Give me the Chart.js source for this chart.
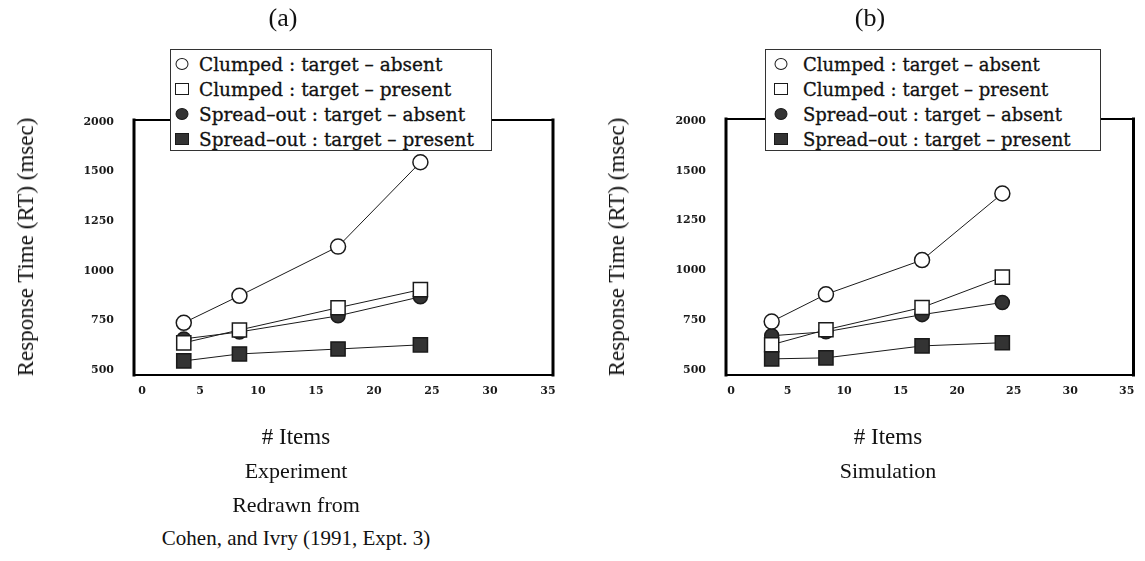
<!DOCTYPE html>
<html>
<head>
<meta charset="utf-8">
<script src="https://cdn.jsdelivr.net/npm/chart.js@4.4.1/dist/chart.umd.min.js"></script>
<style>
  body { margin: 0; background: #fff; width: 1145px; height: 561px; position: relative; overflow: hidden; }
  canvas { position: absolute; top: 0; }
  .txt { position: absolute; white-space: nowrap; transform: translate(-50%, -50%); color: #111;
         font-family: "Liberation Serif", "DejaVu Serif", serif; }
  .ytitle { position: absolute; white-space: nowrap; color: #111; font-family: "Liberation Serif", serif;
            font-size: 23px; transform: translate(-50%, -50%) rotate(-90deg); }
  .legend { position: absolute; background: #fff; border: 1px solid #333; box-sizing: border-box;
            font-family: "DejaVu Serif", serif; color: #111; -webkit-text-stroke: 0.3px #111; }
  .legend .row { position: absolute; left: 0; white-space: nowrap; transform: translateY(-50%); }
  .mk { position: absolute; transform: translate(-50%, -50%); box-sizing: border-box; }
</style>
</head>
<body>
<canvas id="chartA" width="575" height="430" style="left:0px"></canvas>
<canvas id="chartB" width="570" height="430" style="left:575px"></canvas>

<div class="txt" style="left:283px; top:18px; font-size:26px;">(a)</div>
<div class="txt" style="left:870px; top:18px; font-size:26px;">(b)</div>

<div class="ytitle" style="left:26px; top:247px;">Response Time (RT) (msec)</div>
<div class="ytitle" style="left:617px; top:247px;">Response Time (RT) (msec)</div>

<div class="txt" style="left:296px; top:437px; font-size:23px;"># Items</div>
<div class="txt" style="left:888px; top:437px; font-size:23px;"># Items</div>
<div class="txt" style="left:296px; top:471px; font-size:22px;">Experiment</div>
<div class="txt" style="left:296px; top:505px; font-size:22px;">Redrawn from</div>
<div class="txt" style="left:296px; top:538px; font-size:21px;">Cohen, and Ivry (1991, Expt. 3)</div>
<div class="txt" style="left:888px; top:471px; font-size:22px;">Simulation</div>

<div id="legendA" class="legend" style="left:170px; top:49px; width:322px; height:102px;"></div>
<div id="legendB" class="legend" style="left:765px; top:49px; width:336px; height:102px;"></div>

<script>
// set sizes (# items) and tick values
const xItems = [3.6, 8.4, 16.9, 24];
const xTicks = [0, 5, 10, 15, 20, 25, 30, 35];
const yTickValues = [500, 750, 1000, 1250, 1500, 1750];
const yTickLabels = ["500", "750", "1000", "1250", "1500", "2000"];

const seriesNames = [
    "Clumped : target \u2013 absent",
    "Clumped : target \u2013 present",
    "Spread\u2013out : target \u2013 absent",
    "Spread\u2013out : target \u2013 present"
];

// (a) experiment, redrawn from Cohen & Ivry
const expClumpedAbsent = [738, 874, 1122, 1547];
const expClumpedPresent = [637, 702, 814, 905];
const expSpreadAbsent = [657, 692, 773, 869];
const expSpreadPresent = [546, 581, 606, 627];

// (b) simulation
const simClumpedAbsent = [743, 880, 1052, 1386];
const simClumpedPresent = [627, 702, 814, 966];
const simSpreadAbsent = [672, 692, 778, 839];
const simSpreadPresent = [556, 561, 621, 637];

const ink = "#1a1a1a";
const fillDark = "#333";

const markerStyles = [
    { pointStyle: "circle", radius: 7.5, fill: "#fff" },
    { pointStyle: "rect", radius: 10, fill: "#fff" },
    { pointStyle: "circle", radius: 7, fill: fillDark },
    { pointStyle: "rect", radius: 10, fill: fillDark }
];

function makeDatasets(seriesList) {
    return seriesList.map((values, idx) => {
        const m = markerStyles[idx];
        return {
            label: seriesNames[idx],
            data: values.map((v, i) => ({ x: xItems[i], y: v })),
            borderColor: ink,
            borderWidth: 1,
            pointStyle: m.pointStyle,
            pointRadius: m.radius,
            pointBackgroundColor: m.fill,
            pointBorderColor: ink,
            pointBorderWidth: 1.5,
            tension: 0
        };
    });
}

const frameBox = {
    id: "frameBox",
    beforeDatasetsDraw(chart) {
        const { ctx, chartArea: a } = chart;
        ctx.save();
        ctx.strokeStyle = "#000";
        ctx.lineCap = "square";
        const line = (x1, y1, x2, y2, w) => {
            ctx.lineWidth = w;
            ctx.beginPath();
            ctx.moveTo(x1, y1);
            ctx.lineTo(x2, y2);
            ctx.stroke();
        };
        line(a.left, a.top, a.right, a.top, 2);
        line(a.right, a.top, a.right, a.bottom, 3);
        line(a.left, a.bottom, a.right, a.bottom, 2);
        line(a.left, a.top, a.left, a.bottom, 3);
        ctx.restore();
    }
};

function buildChart(canvasId, seriesList, box, xRange) {
    const canvas = document.getElementById(canvasId);
    const yLabelWidth = 75;
    const xLabelHeight = 40;
    return new Chart(canvas, {
        type: "line",
        data: { datasets: makeDatasets(seriesList) },
        options: {
            responsive: false,
            animation: false,
            events: [],
            layout: {
                padding: {
                    left: box.left - yLabelWidth,
                    top: box.top,
                    right: canvas.width - box.right,
                    bottom: canvas.height - box.bottom - xLabelHeight
                }
            },
            plugins: {
                legend: { display: false },
                tooltip: { enabled: false }
            },
            scales: {
                x: {
                    type: "linear",
                    min: xRange[0],
                    max: xRange[1],
                    afterFit: (scale) => { scale.height = xLabelHeight; },
                    afterBuildTicks: (scale) => { scale.ticks = xTicks.map((v) => ({ value: v })); },
                    grid: { display: false, drawTicks: false },
                    border: { display: false },
                    ticks: {
                        padding: 10,
                        color: ink,
                        font: { family: "DejaVu Serif", size: 11, weight: "bold" }
                    }
                },
                y: {
                    type: "linear",
                    min: 475,
                    max: 1760,
                    afterFit: (scale) => { scale.width = yLabelWidth; },
                    afterBuildTicks: (scale) => { scale.ticks = yTickValues.map((v) => ({ value: v })); },
                    grid: { display: false, drawTicks: false },
                    border: { display: false },
                    ticks: {
                        padding: 20,
                        color: ink,
                        font: { family: "DejaVu Serif", size: 11, weight: "bold" },
                        callback: (value) => {
                            const idx = yTickValues.indexOf(value);
                            return idx >= 0 ? yTickLabels[idx] : "";
                        }
                    }
                }
            }
        },
        plugins: [frameBox]
    });
}

buildChart("chartA",
    [expClumpedAbsent, expClumpedPresent, expSpreadAbsent, expSpreadPresent],
    { left: 134, right: 553, top: 120, bottom: 375 },
    [-0.69, 35.43]);

buildChart("chartB",
    [simClumpedAbsent, simClumpedPresent, simSpreadAbsent, simSpreadPresent],
    { left: 726 - 575, right: 1140 - 575, top: 119, bottom: 375 },
    [-0.44, 35.6]);

function buildLegend(elId, markerX, textX, fontSize) {
    const el = document.getElementById(elId);
    const rowsY = [14, 39, 64, 89];
    el.style.fontSize = fontSize + "px";
    el.innerHTML = seriesNames.map((name, idx) => {
        const m = markerStyles[idx];
        const shape = m.pointStyle === "circle"
            ? `width:13px;height:12px;border-radius:50%;`
            : `width:14px;height:12px;`;
        const border = m.fill === "#fff" ? `border:1.5px solid ${ink};` : `border:1px solid ${ink};`;
        return `<div class="mk" style="left:${markerX}px;top:${rowsY[idx]}px;${shape}${border}background:${m.fill}"></div>
                <div class="row" style="left:${textX}px;top:${rowsY[idx]}px">${name}</div>`;
    }).join("");
}

buildLegend("legendA", 11, 28, 18.5);
buildLegend("legendB", 15, 37, 18);
</script>
</body>
</html>
